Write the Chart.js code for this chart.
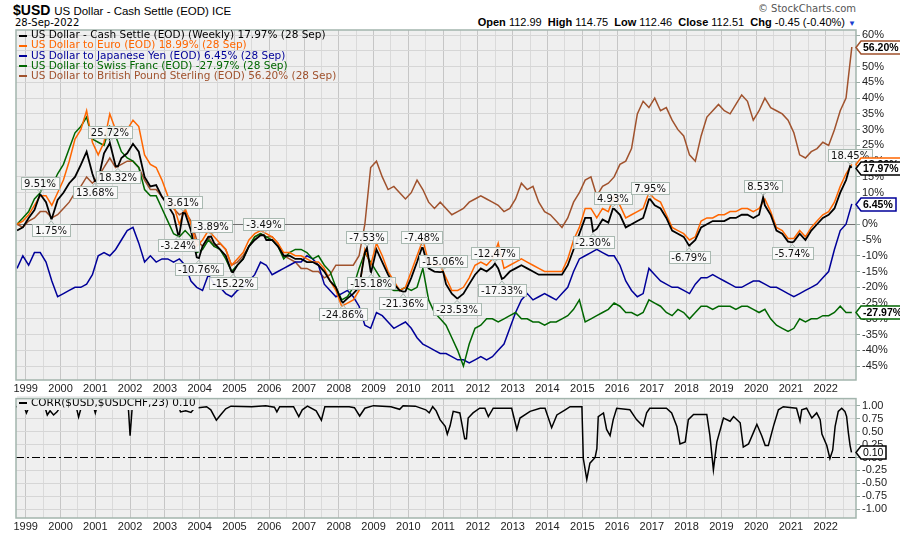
<!DOCTYPE html>
<html>
<head>
<meta charset="utf-8">
<script src="https://cdn.jsdelivr.net/npm/chart.js@4.4.0/dist/chart.umd.min.js"></script>
<style>
  body { margin: 0; width: 900px; height: 534px; background: #fff; position: relative; overflow: hidden; }
  .t { position: absolute; white-space: nowrap; line-height: 1; color: #000; }
  canvas { position: absolute; left: 0; }
</style>
</head>
<body>
<div class="t" style="left:13px;top:2px;font:bold 14px 'Liberation Sans',Arial">$USD <span style="font:11.5px 'Liberation Sans',Arial">US Dollar - Cash Settle (EOD) ICE</span></div>
<div class="t" style="left:15px;top:17px;font:10px 'DejaVu Sans'">28-Sep-2022</div>
<div class="t" style="right:44px;top:3px;font:10px 'DejaVu Sans';color:#555">© StockCharts.com</div>
<div class="t" style="right:44px;top:16px;font:11px 'Liberation Sans',Arial"><b>Open</b> 112.99&nbsp; <b>High</b> 114.75&nbsp; <b>Low</b> 112.46&nbsp; <b>Close</b> 112.51&nbsp; <b>Chg</b> -0.45 (-0.40%) <span style="color:#1a3fd0;font-size:8px">▼</span></div>

<canvas id="top" width="900" height="395" style="top:0"></canvas>
<canvas id="bot" width="900" height="144" style="top:390px"></canvas>

<script>
// eje temporale: punti ogni 2 mesi da fine 1998
const startYear = 1998.75;
const stepYear = 1 / 6;
const yearLabels = ['1999','2000','2001','2002','2003','2004','2005','2006','2007','2008','2009','2010',
  '2011','2012','2013','2014','2015','2016','2017','2018','2019','2020','2021','2022'];
const pctTicks = [-45, -40, -35, -30, -25, -20, -15, -10, -5, 0, 5, 10, 15, 20, 25, 30, 35, 40, 45, 50, 55, 60];
const corrTicks = [-1, -0.75, -0.5, -0.25, 0, 0.25, 0.5, 0.75, 1];

// variazione % - US Dollar index
const usd = [
  -2, -1,
  2, 4.5, 9.5, 7, 1.8, 7.7,
  10, 13, 15, 18.8, 23, 16,
  14, 22.5, 25.7, 18.5, 21, 22.5,
  25.5, 23, 15, 12, 12.4, 8.7,
  6, 3, -3.2, 3.4, -2, -10.5,
  -7, -4, -6, -8, -10, -15,
  -13, -11, -7, -5, -3.5, -5,
  -5, -7, -10, -10, -11, -11,
  -12, -12, -13, -15, -18, -20,
  -24.5, -23.5, -22, -20, -9, -15,
  -8, -12, -16, -19, -21, -21.3,
  -17, -12, -7.5, -14, -15, -15.2,
  -19, -22, -23.5, -22, -19, -16,
  -14, -15, -13.5, -14, -17, -15,
  -14, -13, -14, -15, -16, -16,
  -16, -16, -16, -13, -8, -3,
  2, 2, -1.5, 1.5, 0.5, 4.9,
  3, -1, 0, 1, 2, 7.9,
  6, 5, 2, -2, -3, -4,
  -6.7, -5, -1, 0, 1, 1,
  1, 2, 2, 3, 3, 2,
  3, 6, 3, -2, -3, -5.5,
  -5.5, -3, -5, -2, 0, 2,
  3, 5, 10, 14, 17.97
];
// US Dollar to Euro
const eur = [
  0, 1,
  3, 6, 9, 9, 6, 10,
  14, 20, 27, 30, 36, 26,
  22, 26, 35, 30, 31, 30,
  33, 31, 22, 19, 18, 14,
  9, 6, 0, 5, 0, -7,
  -5, -2, -4, -6, -8, -13,
  -11, -9, -5, -3, -2, -3,
  -4, -6, -9, -9, -10, -10,
  -11, -12, -12, -14, -18, -21,
  -26, -25, -24, -21, -8, -13,
  -6, -10, -15, -18, -21, -20,
  -15, -10, -5, -12, -13, -13,
  -17, -21, -21, -20, -17, -13,
  -12, -13, -11, -6, -14, -13,
  -12, -11, -12, -13, -14, -15,
  -15, -15, -15, -11, -5, -1,
  5, 5, 2, 5, 4, 9,
  6, 2, 3, 4, 5, 10,
  8, 7, 3, -1, -2, -3,
  -5, -4, 1, 2, 2, 3,
  3, 4, 4, 5, 5, 4,
  5, 8, 4, -1, -2, -4.5,
  -4.5, -2, -4, -1, 1, 3,
  4, 7, 12, 16, 18.99
];
// US Dollar to Japanese Yen
const jpy = [
  -14, -10,
  -13, -9, -9, -12, -18, -23,
  -22, -21, -20, -20, -19, -16,
  -10, -9, -10, -8, -5, -2,
  -1, -6, -12, -10, -12, -11,
  -11, -12, -11, -13, -18, -20,
  -21, -16, -19, -20, -22, -23,
  -21, -20, -18, -16, -12, -13,
  -16, -15, -14, -13, -12, -12,
  -10, -11, -13, -19, -21, -23,
  -22, -21, -23, -26, -32, -33,
  -28, -29, -31, -33, -32, -31,
  -33, -36, -38, -39, -40, -41,
  -41, -42, -43, -43, -44, -43,
  -42, -43, -42, -40, -38, -33,
  -28, -24, -22, -24, -23, -22,
  -23, -24, -22, -20, -15, -11,
  -10, -9, -8, -9, -10, -10,
  -13, -18, -21, -23, -22, -14,
  -16, -18, -19, -20, -20, -21,
  -22, -19, -17, -17, -16, -17,
  -18, -19, -20, -20, -19, -18,
  -18, -19, -20, -20, -21, -22,
  -23, -22, -21, -20, -19, -17,
  -15, -8, -2, 0, 6.45
];
// US Dollar to Swiss Franc
const chf = [
  0, 2,
  4, 8, 10, 14, 12, 16,
  19, 24, 29, 31, 34, 27,
  26, 25, 31, 28, 23, 21,
  20, 18, 11, 9, 9, 5,
  1, -3, -4, -2, -4, -9,
  -8, -5, -7, -8, -11, -15,
  -13, -11, -7, -4, -3, -4,
  -5, -7, -11, -9, -8, -8,
  -9, -11, -10, -13, -15, -20,
  -24, -23, -20, -14, -9, -12,
  -15, -18, -20, -21, -21, -20,
  -21, -20, -14, -24, -28, -30,
  -32, -36, -40, -45, -38, -33,
  -32, -30, -30, -31, -30, -29,
  -28, -30, -30, -31, -31, -32,
  -31, -31, -30, -29, -27, -24,
  -31, -30, -29, -28, -27, -25,
  -26, -28, -28, -29, -28, -24,
  -25, -26, -28, -29, -27, -28,
  -30, -28, -26, -26, -27, -26,
  -26, -26, -27, -26, -26, -27,
  -28, -27, -30, -32, -33, -34,
  -33, -30, -31, -30, -30, -29,
  -29, -28, -26, -28, -27.97
];
// US Dollar to British Pound Sterling
const gbp = [
  0, -1,
  1, 2, 4, 4, 2, 3,
  5, 7, 10, 12, 15, 13,
  15, 18, 21, 18, 19, 20,
  20, 18, 14, 11, 11, 8.7,
  7, 5, 3, 4, 1, -5,
  -7, -4, -7, -6, -8, -13,
  -12, -10, -7, -4, -3, -4,
  -4, -6, -10, -11, -12, -14,
  -14, -15, -15, -17, -16, -13,
  -13, -13, -13, -10, 0, 18,
  20, 15, 11, 12, 10, 8,
  10, 14, 11, 7, 5, 7,
  5, 3, 4, 5, 7, 8,
  9, 8, 7, 6, 4, 5,
  8, 13, 11, 12, 7, 4,
  3, 1, -1, 2, 7, 10,
  14, 15, 9, 12, 13, 15,
  19, 20, 24, 35, 39, 37,
  40, 36, 37, 33, 30, 28,
  22, 20, 28, 34, 36, 38,
  36, 35, 38, 41, 39, 33,
  36, 40, 37, 36, 35, 33,
  29, 22, 21, 23, 24, 26,
  25, 30, 36, 40, 56.2
];

// etichette di massimi/minimi sulla serie USD
const noteYears = [1999.41, 1999.73, 2000.99, 2001.42, 2001.65, 2003.38, 2003.52, 2003.98, 2004.33, 2004.96,
  2005.85, 2008.12, 2008.81, 2008.93, 2009.85, 2010.39, 2011.0, 2011.4, 2012.49, 2012.69,
  2015.31, 2015.88, 2016.95, 2018.07, 2020.2, 2021.04, 2022.7];
const noteValues = [9.51, 1.75, 13.68, 25.72, 18.32, -3.24, 3.61, -10.76, -3.89, -15.22,
  -3.49, -24.86, -7.53, -15.18, -21.36, -7.48, -15.06, -23.53, -12.47, -17.33,
  -2.30, 4.93, 7.95, -6.79, 8.53, -5.74, 18.45];
const noteUp = [1, 0, 0, 1, 0, 0, 1, 0, 1, 0, 1, 0, 1, 0, 0, 1, 1, 0, 1, 0, 0, 1, 1, 0, 1, 0, 1];

// CORR($USD,$USDCHF,23)
const corrDates = [1998.72, 1998.95, 1999.02, 1999.1, 1999.55, 1999.62, 1999.7, 1999.8, 1999.9, 2000.0,
  2000.45, 2000.52, 2000.6, 2000.95, 2001.0, 2001.05, 2001.95, 2002.0, 2002.06, 2003.4,
  2003.45, 2003.6, 2003.75, 2003.85, 2004.2, 2004.32, 2004.48, 2004.6, 2004.75, 2004.9,
  2005.5, 2005.9, 2006.15, 2006.22, 2006.3, 2006.7, 2006.85, 2006.95, 2007.1, 2007.35,
  2007.5, 2007.6, 2008.3, 2008.45, 2008.6, 2008.75, 2009.0, 2009.5, 2009.75, 2009.85,
  2010.2, 2010.5, 2010.6, 2010.7, 2010.8, 2010.91, 2011.06, 2011.12, 2011.2, 2011.29,
  2011.48, 2011.62, 2011.67, 2011.72, 2011.86, 2012.05, 2012.2, 2012.3, 2012.44, 2012.97,
  2013.12, 2013.21, 2013.5, 2013.79, 2013.93, 2014.12, 2014.27, 2014.51, 2014.65, 2014.99,
  2015.03, 2015.13, 2015.22, 2015.37, 2015.42, 2015.46, 2015.61, 2015.7, 2015.8, 2015.89,
  2015.99, 2016.37, 2016.56, 2016.75, 2016.85, 2016.94, 2017.42, 2017.57, 2017.72, 2017.81,
  2017.96, 2018.05, 2018.2, 2018.58, 2018.67, 2018.77, 2018.87, 2019.06, 2019.25, 2019.35,
  2019.54, 2019.63, 2019.78, 2019.92, 2020.02, 2020.16, 2020.26, 2020.35, 2020.5, 2020.64,
  2020.78, 2021.16, 2021.26, 2021.31, 2021.45, 2021.6, 2021.74, 2021.84, 2021.89, 2022.03,
  2022.12, 2022.2, 2022.27, 2022.36, 2022.46, 2022.55, 2022.6, 2022.65, 2022.7, 2022.74];
const corrValues = [0.98, 0.99, 0.86, 0.98, 0.98, 0.82, 0.9, 0.82, 0.88, 0.98,
  0.98, 0.78, 0.98, 0.98, 0.86, 0.98, 0.96, 0.42, 0.96, 0.98,
  0.88, 0.9, 0.87, 0.95, 0.98, 0.92, 0.72, 0.82, 0.94, 0.99,
  0.98, 1.0, 0.97, 0.88, 0.98, 0.98, 0.79, 0.92, 0.99, 0.9,
  0.72, 0.98, 0.98, 0.96, 0.8, 0.95, 1.0, 0.98, 0.93, 1.0,
  0.99, 0.92, 0.86, 0.98, 0.9, 0.73, 0.6, 0.45, 0.61, 0.89,
  0.86, 0.36, 0.36, 0.76, 0.86, 0.95, 0.95, 0.79, 0.95, 0.95,
  0.54, 0.76, 0.89, 0.95, 0.95, 0.575, 0.82, 0.92, 0.98, 0.98,
  -0.02, -0.425, -0.11, 0.0, 0.17, 0.79, 0.86, 0.54, 0.42, 0.73,
  0.95, 0.92, 0.73, 0.6, 0.86, 0.95, 0.95, 0.86, 0.6, 0.26,
  0.3, 0.73, 0.83, 0.83, 0.42, -0.24, 0.3, 0.76, 0.7, 0.79,
  0.67, 0.2, 0.26, 0.48, 0.64, 0.42, 0.23, 0.23, 0.61, 0.92,
  0.98, 0.95, 0.7, 0.92, 0.95, 0.76, 0.86, 0.73, 0.45, 0.23,
  -0.02, 0.14, 0.6, 0.89, 0.95, 0.89, 0.79, 0.48, 0.23, 0.10];

const dates = usd.map((_, i) => startYear + i * stepYear);
const xy = vals => vals.map((v, i) => ({ x: dates[i], y: v }));
const usdPts = xy(usd)
  .concat(noteYears.map((d, i) => ({ x: d, y: noteValues[i] })))
  .sort((a, b) => a.x - b.x);
const yearTicks = [];
yearLabels.forEach(y => { yearTicks.push(+y, +y + 0.5); });

const tickFont = { family: "'Liberation Sans', Arial", size: 11 };
const BG = '#efefef', BORDER = '#a3b5ad';

// sfondo e cornice dell'area del grafico
const frame = {
  id: 'frame',
  beforeDraw(chart) {
    const { ctx, chartArea: a } = chart;
    ctx.save();
    ctx.fillStyle = BG;
    ctx.fillRect(a.left, a.top, a.right - a.left, a.bottom - a.top);
    ctx.restore();
  },
  afterDraw(chart) {
    const { ctx, chartArea: a } = chart;
    ctx.save();
    ctx.strokeStyle = BORDER;
    ctx.lineWidth = 1.5;
    ctx.strokeRect(a.left, a.top, a.right - a.left, a.bottom - a.top);
    ctx.restore();
  }
};

function tag(ctx, px, py, text, up) {
  ctx.font = "10px 'DejaVu Sans'";
  const w = Math.round(ctx.measureText(text).width) + 6, h = 12;
  const left = Math.round(px - w / 2) + 0.5;
  const top = (up ? Math.round(py) - 17 : Math.round(py) + 5) + 0.5;
  ctx.fillStyle = 'rgba(250,250,250,0.9)';
  ctx.strokeStyle = '#a9b9b1';
  ctx.lineWidth = 1;
  ctx.fillRect(left, top, w, h);
  ctx.strokeRect(left, top, w, h);
  // piccolo puntatore
  ctx.beginPath();
  if (up) { ctx.moveTo(px - 3, top + h); ctx.lineTo(px, py - 2); ctx.lineTo(px + 3, top + h); }
  else { ctx.moveTo(px - 3, top); ctx.lineTo(px, py + 2); ctx.lineTo(px + 3, top); }
  ctx.stroke();
  ctx.fillStyle = '#111';
  ctx.textAlign = 'center';
  ctx.textBaseline = 'middle';
  ctx.fillText(text, px, top + h / 2 + 0.5);
}

function valueBox(ctx, x0, py, text, color, bold) {
  ctx.font = (bold ? 'bold ' : '') + "10.5px 'Liberation Sans', Arial";
  const w = Math.round(ctx.measureText(text).width) + 10, h = 13;
  py = Math.round(py) + 0.5;
  ctx.beginPath();
  ctx.moveTo(x0, py);
  ctx.lineTo(x0 + 5, py - h / 2);
  ctx.lineTo(x0 + w, py - h / 2);
  ctx.lineTo(x0 + w, py + h / 2);
  ctx.lineTo(x0 + 5, py + h / 2);
  ctx.closePath();
  ctx.fillStyle = '#fff';
  ctx.fill();
  ctx.strokeStyle = color;
  ctx.lineWidth = 1.5;
  ctx.stroke();
  ctx.fillStyle = '#000';
  ctx.textAlign = 'left';
  ctx.textBaseline = 'middle';
  ctx.fillText(text, x0 + 7, py + 0.5);
}

const legendRows = [
  ['US Dollar - Cash Settle (EOD) (Weekly) 17.97% (28 Sep)', '#000000'],
  ['US Dollar to Euro (EOD) 18.99% (28 Sep)', '#ff6600'],
  ['US Dollar to Japanese Yen (EOD) 6.45% (28 Sep)', '#000099'],
  ['US Dollar to Swiss Franc (EOD) -27.97% (28 Sep)', '#006600'],
  ['US Dollar to British Pound Sterling (EOD) 56.20% (28 Sep)', '#a0522d']
];

const overlay = {
  id: 'overlay',
  afterDraw(chart) {
    const { ctx, scales: { x, y } } = chart;
    ctx.save();
    // legenda
    ctx.font = "10.5px 'DejaVu Sans'";
    ctx.textBaseline = 'middle';
    ctx.textAlign = 'left';
    legendRows.forEach((r, i) => {
      const ly = 35.5 + i * 10.2;
      ctx.fillStyle = r[1];
      ctx.fillRect(19, Math.round(ly) - 1, 8, 2);
      ctx.fillText(r[0], 31, ly);
    });
    // etichette
    noteYears.forEach((d, i) => {
      const v = noteValues[i];
      tag(ctx, x.getPixelForValue(d), y.getPixelForValue(v), v.toFixed(2) + '%', noteUp[i]);
    });
    // valori finali
    const x0 = chart.chartArea.right;
    valueBox(ctx, x0, y.getPixelForValue(gbp[gbp.length - 1]), '56.20%', '#a0522d', true);
    valueBox(ctx, x0, y.getPixelForValue(eur[eur.length - 1]), '18.99%', '#ff6600', true);
    valueBox(ctx, x0, y.getPixelForValue(usd[usd.length - 1]), '17.97%', '#000000', true);
    valueBox(ctx, x0, y.getPixelForValue(jpy[jpy.length - 1]), '6.45%', '#000099', true);
    valueBox(ctx, x0, y.getPixelForValue(chf[chf.length - 1]), '-27.97%', '#006600', true);
    ctx.restore();
  }
};

const xScale = (height) => ({
  type: 'linear',
  min: 1998.72,
  max: 2022.87,
  afterBuildTicks: s => { s.ticks = yearTicks.map(v => ({ value: v })); },
  afterFit: s => { s.height = height; },
  ticks: {
    autoSkip: false, maxRotation: 0, padding: 2, font: tickFont, color: '#222',
    callback: v => Number.isInteger(v) ? String(v) : ''
  },
  grid: { drawTicks: false, color: c => Number.isInteger(c.tick.value) ? '#c6c6c6' : '#dadada' },
  border: { display: false }
});

new Chart(document.getElementById('top'), {
  type: 'line',
  data: {
    datasets: [
      { data: usdPts, borderColor: '#000000', borderWidth: 1.8 },
      { data: xy(eur), borderColor: '#ff6600' },
      { data: xy(chf), borderColor: '#006600' },
      { data: xy(jpy), borderColor: '#000099' },
      { data: xy(gbp), borderColor: '#a0522d' }
    ]
  },
  options: {
    responsive: false,
    animation: false,
    layout: { padding: { left: 16, top: 30, right: 0, bottom: 0 } },
    elements: { point: { radius: 0 }, line: { borderWidth: 1.5, tension: 0 } },
    plugins: { legend: { display: false }, tooltip: { enabled: false } },
    scales: {
      x: xScale(15),
      y: {
        position: 'right',
        min: -49.4,
        max: 61.6,
        afterBuildTicks: s => { s.ticks = pctTicks.map(v => ({ value: v })); },
        afterFit: s => { s.width = 44; },
        ticks: { autoSkip: false, padding: 2, font: tickFont, color: '#222', callback: v => v + '%' },
        grid: { tickLength: 4, tickColor: '#9aaaa4', color: c => c.tick.value === 0 ? '#707070' : '#d6d6d6' },
        border: { display: false }
      }
    }
  },
  plugins: [frame, overlay]
});

const corrOverlay = {
  id: 'corrOverlay',
  beforeDatasetsDraw(chart) {
    const { ctx, chartArea: a, scales: { y } } = chart;
    const zy = Math.round(y.getPixelForValue(0)) + 0.5;
    ctx.save();
    ctx.strokeStyle = '#000';
    ctx.lineWidth = 1;
    ctx.setLineDash([8, 3, 2, 3]);
    ctx.beginPath();
    ctx.moveTo(a.left, zy);
    ctx.lineTo(a.right, zy);
    ctx.stroke();
    ctx.restore();
  },
  afterDatasetsDraw(chart) {
    const { ctx } = chart;
    ctx.save();
    ctx.font = "10.5px 'DejaVu Sans'";
    const txt = 'CORR($USD,$USDCHF,23) 0.10';
    const w = ctx.measureText(txt).width;
    ctx.fillStyle = BG;
    ctx.fillRect(17, 6, w + 17, 14);
    ctx.fillStyle = '#000';
    ctx.fillRect(19, 12, 8, 2);
    ctx.textBaseline = 'middle';
    ctx.fillText(txt, 31, 13);
    ctx.restore();
  },
  afterDraw(chart) {
    const { ctx, scales: { y } } = chart;
    ctx.save();
    valueBox(ctx, chart.chartArea.right, y.getPixelForValue(corrValues[corrValues.length - 1]), '0.10', '#000', false);
    ctx.restore();
  }
};

new Chart(document.getElementById('bot'), {
  type: 'line',
  data: {
    datasets: [{ data: corrDates.map((d, i) => ({ x: d, y: corrValues[i] })), borderColor: '#000', borderWidth: 1.5 }]
  },
  options: {
    responsive: false,
    animation: false,
    layout: { padding: { left: 16, top: 5, right: 0, bottom: 0 } },
    elements: { point: { radius: 0 }, line: { tension: 0 } },
    plugins: { legend: { display: false }, tooltip: { enabled: false } },
    scales: {
      x: xScale(16),
      y: {
        position: 'right',
        min: -1.168,
        max: 1.136,
        afterBuildTicks: s => { s.ticks = corrTicks.map(v => ({ value: v })); },
        afterFit: s => { s.width = 44; },
        ticks: { autoSkip: false, padding: 2, font: tickFont, color: '#222', callback: v => v.toFixed(2) },
        grid: { tickLength: 4, tickColor: '#9aaaa4', color: c => c.tick.value === 0 ? 'rgba(0,0,0,0)' : '#d6d6d6' },
        border: { display: false }
      }
    }
  },
  plugins: [frame, corrOverlay]
});
</script>
</body>
</html>
